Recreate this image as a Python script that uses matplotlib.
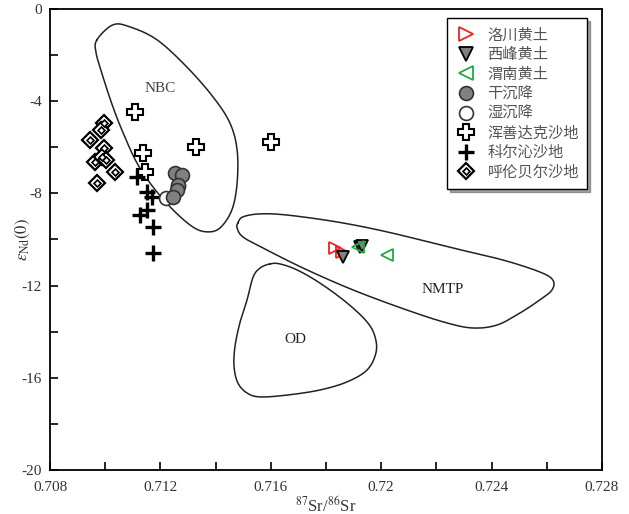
import numpy as np
import matplotlib
matplotlib.use("Agg")
import matplotlib.pyplot as plt
from matplotlib.lines import Line2D
from matplotlib.legend_handler import HandlerTuple

plt.rcParams['font.family'] = ['Liberation Serif', 'Noto Sans CJK SC', 'DejaVu Sans']
plt.rcParams['mathtext.fontset'] = 'stix'

# 样品数据 (87Sr/86Sr, εNd(0))
luochuan_x = [0.71833, 0.71858]
luochuan_y = [-10.37, -10.54]
xifeng_x = [0.71862, 0.71923, 0.71930]
xifeng_y = [-10.76, -10.33, -10.28]
weinan_x = [0.71916, 0.72021]
weinan_y = [-10.33, -10.67]
dry_x = [0.71253, 0.71278, 0.71264, 0.71260, 0.71246]
dry_y = [-7.11, -7.20, -7.64, -7.85, -8.16]
wet_x = [0.71220, 0.71262]
wet_y = [-8.20, -7.66]
hunshandake_x = [0.71108, 0.71329, 0.71601, 0.71137, 0.71144]
hunshandake_y = [-4.47, -5.99, -5.77, -6.25, -7.07]
keerqin_x = [0.71115, 0.71151, 0.71170, 0.71151, 0.71126, 0.71173, 0.71173]
keerqin_y = [-7.29, -7.94, -8.16, -8.72, -8.94, -9.46, -10.59]
hulunbeier_x = [0.70997, 0.70985, 0.70945, 0.70996, 0.70963, 0.70988, 0.71003, 0.71036, 0.70970]
hulunbeier_y = [-4.95, -5.25, -5.68, -6.03, -6.64, -6.42, -6.55, -7.07, -7.55]

# 源区范围
nbc_x = [0.70970, 0.71028, 0.71090, 0.71188, 0.71296, 0.71391, 0.71452, 0.71478, 0.71478, 0.71459,
         0.71416, 0.71369, 0.71318, 0.71246, 0.71173, 0.71115, 0.71065, 0.71028, 0.70992, 0.70967]
nbc_y = [-1.34, -0.69, -0.78, -1.34, -2.52, -3.82, -4.95, -6.12, -7.55, -8.72,
         -9.50, -9.67, -9.46, -8.72, -7.72, -6.68, -5.38, -4.25, -2.95, -1.91]
nmtp_x = [0.71481, 0.71499, 0.71561, 0.71659, 0.71840, 0.72021, 0.72260, 0.72441, 0.72575, 0.72622, 0.72619,
          0.72575, 0.72503, 0.72420, 0.72333, 0.72238, 0.72093, 0.71898, 0.71717, 0.71572, 0.71499, 0.71478]
nmtp_y = [-9.28, -9.02, -8.89, -8.94, -9.24, -9.67, -10.37, -10.89, -11.41, -11.76, -12.19,
          -12.62, -13.19, -13.71, -13.84, -13.62, -13.06, -12.19, -11.24, -10.37, -9.89, -9.50]
od_x = [0.71597, 0.71561, 0.71536, 0.71514, 0.71488, 0.71470, 0.71467, 0.71481, 0.71514, 0.71561, 0.71659,
        0.71778, 0.71876, 0.71949, 0.71981, 0.71978, 0.71949, 0.71876, 0.71778, 0.71695, 0.71633]
od_y = [-11.06, -11.24, -11.63, -12.62, -13.62, -14.66, -15.53, -16.23, -16.66, -16.83, -16.75,
        -16.53, -16.18, -15.66, -14.92, -14.23, -13.58, -12.75, -11.89, -11.32, -11.06]


def closed_curve(xs, ys, n=20):
    # 闭合 Catmull-Rom 平滑
    P = np.column_stack([xs, ys])
    N = len(P)
    t = np.linspace(0, 1, n, endpoint=False)[:, None]
    seg = []
    for i in range(N):
        p0, p1, p2, p3 = P[i - 1], P[i], P[(i + 1) % N], P[(i + 2) % N]
        seg.append(0.5 * (2 * p1 + (-p0 + p2) * t + (2 * p0 - 5 * p1 + 4 * p2 - p3) * t ** 2
                          + (-p0 + 3 * p1 - 3 * p2 + p3) * t ** 3))
    seg.append(P[:1])
    c = np.vstack(seg)
    return c[:, 0], c[:, 1]


fig = plt.figure(figsize=(6.29, 5.14), dpi=100)
ax = fig.add_axes([0.0795, 0.0856, 0.8775, 0.897])

for xs, ys in [(nbc_x, nbc_y), (nmtp_x, nmtp_y), (od_x, od_y)]:
    cx, cy = closed_curve(xs, ys)
    ax.plot(cx, cy, color='#222222', lw=1.1, zorder=1)

ax.text(0.71199, -3.43, 'NBC', fontsize=11, color='#444444', ha='center', va='center')
ax.text(0.72224, -12.15, 'NMTP', fontsize=11, color='#222222', ha='center', va='center')
ax.text(0.71688, -14.32, 'OD', fontsize=11, color='#222222', ha='center', va='center')

# 呼伦贝尔沙地
ax.plot(hulunbeier_x, hulunbeier_y, 'D', ms=8, mfc='white', mec='black', mew=1.6, ls='none', zorder=3)
ax.plot(hulunbeier_x, hulunbeier_y, 'D', ms=3.5, mfc='white', mec='black', mew=1.2, ls='none', zorder=3)
# 浑善达克沙地
ax.plot(hunshandake_x, hunshandake_y, 'P', ms=12, mfc='white', mec='black', mew=1.5, ls='none', zorder=3)
# 科尔沁沙地
ax.plot(keerqin_x, keerqin_y, '+', ms=11, mec='black', mew=2.4, ls='none', zorder=3)
# 湿沉降 / 干沉降
ax.plot(wet_x, wet_y, 'o', ms=10, mfc='white', mec='#333333', mew=1.2, ls='none', zorder=3.5)
ax.plot(dry_x, dry_y, 'o', ms=10, mfc='#808080', mec='#333333', mew=1.2, ls='none', zorder=4)
# 黄土
ax.plot(luochuan_x, luochuan_y, '>', ms=9, mfc='none', mec='#ee2222', mew=1.3, ls='none', zorder=5)
ax.plot(xifeng_x, xifeng_y, 'v', ms=9, mfc='#808080', mec='black', mew=1.3, ls='none', zorder=5)
ax.plot(weinan_x, weinan_y, '<', ms=9, mfc='none', mec='#22aa44', mew=1.3, ls='none', zorder=6)

ax.set_xlim(0.708, 0.728)
ax.set_ylim(-20, 0)
xt = np.round(np.arange(0.708, 0.7281, 0.002), 3)
ax.set_xticks(xt)
ax.set_xticklabels(['0.708', '', '0.712', '', '0.716', '', '0.72', '', '0.724', '', '0.728'])
ax.set_yticks(np.arange(-20, 1, 2))
ax.set_yticklabels(['-20', '', '-16', '', '-12', '', '-8', '', '-4', '', '0'])
ax.tick_params(direction='in', length=6, width=1.2, labelsize=11, colors='black',
               labelcolor='#333333', top=False, right=False)
ax.tick_params(axis='x', pad=8)
ax.tick_params(axis='y', pad=6)
for s in ax.spines.values():
    s.set_linewidth(1.3)

ax.set_xlabel(r'$^{87}$Sr/$^{86}$Sr', fontsize=12, color='#333333', labelpad=1)
ax.set_ylabel(r'$\varepsilon_{\mathrm{Nd}}(0)$', fontsize=12, color='#333333')
ax.yaxis.set_label_coords(-0.033, 0.5)

diamond_h = (Line2D([], [], marker='D', ls='none', ms=8, mfc='white', mec='black', mew=1.6),
             Line2D([], [], marker='D', ls='none', ms=3.5, mfc='white', mec='black', mew=1.2))
handles = [
    Line2D([], [], marker='>', ls='none', ms=10, mfc='none', mec='#ee2222', mew=1.3),
    Line2D([], [], marker='v', ls='none', ms=10, mfc='#808080', mec='black', mew=1.3),
    Line2D([], [], marker='<', ls='none', ms=10, mfc='none', mec='#22aa44', mew=1.3),
    Line2D([], [], marker='o', ls='none', ms=10, mfc='#808080', mec='#333333', mew=1.2),
    Line2D([], [], marker='o', ls='none', ms=10, mfc='white', mec='#333333', mew=1.2),
    Line2D([], [], marker='P', ls='none', ms=12, mfc='white', mec='black', mew=1.5),
    Line2D([], [], marker='+', ls='none', ms=11, mec='black', mew=2.4),
    diamond_h,
]
labels = ['洛川黄土', '西峰黄土', '渭南黄土', '干沉降', '湿沉降', '浑善达克沙地', '科尔沁沙地', '呼伦贝尔沙地']
leg = ax.legend(handles, labels, loc='upper right', bbox_to_anchor=(0.982, 0.99),
                handler_map={tuple: HandlerTuple(ndivide=1, pad=0)},
                fancybox=False, shadow=True, edgecolor='black', framealpha=1,
                prop={'family': ['Noto Sans CJK SC', 'DejaVu Sans'], 'size': 11},
                labelspacing=0.17, handletextpad=0.7, borderpad=0.55, handlelength=1.4,
                borderaxespad=0.3)
for t in leg.get_texts():
    t.set_color('#555555')

fig.savefig('out.png', dpi=100)
